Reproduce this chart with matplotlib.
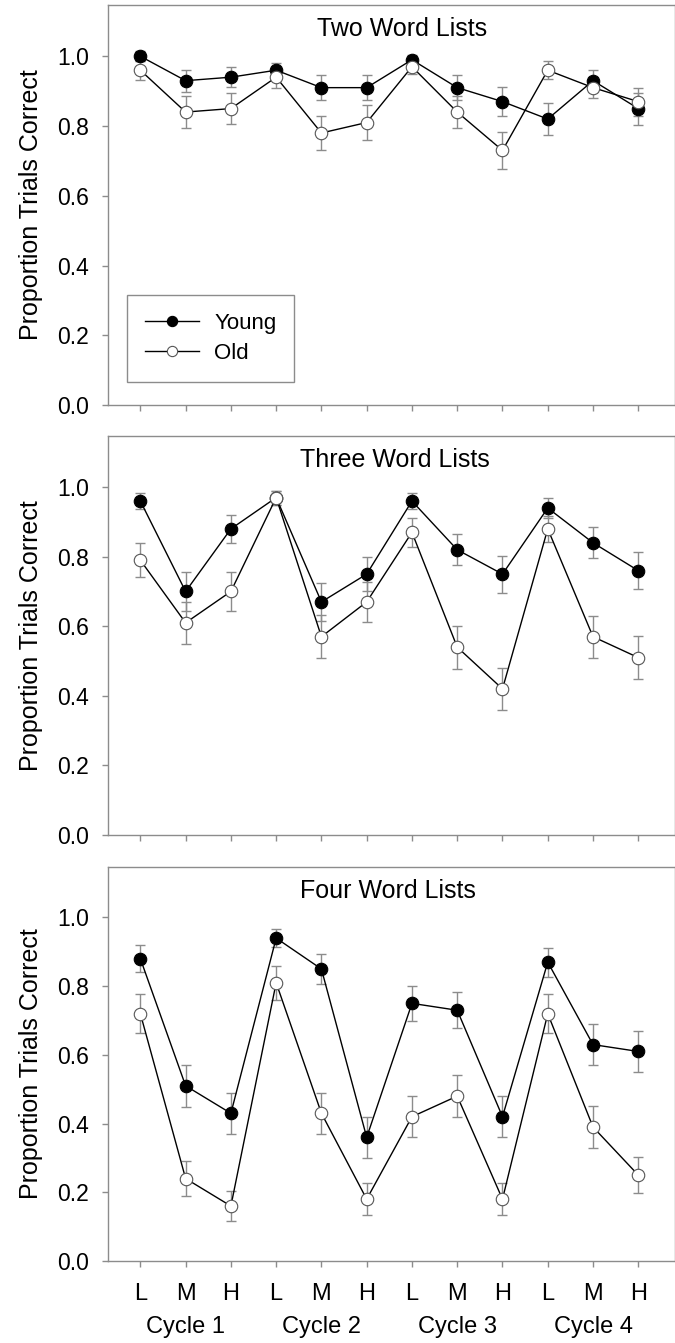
import matplotlib
matplotlib.use("Agg")
import matplotlib.pyplot as plt
import numpy as np

plt.rcParams['font.family'] = ['Liberation Sans', 'DejaVu Sans']

conditions = ["L", "M", "H"] * 4
cycles = ["Cycle 1", "Cycle 2", "Cycle 3", "Cycle 4"]
titles = ["Two Word Lists", "Three Word Lists", "Four Word Lists"]

young_two = [1.00, 0.93, 0.94, 0.96, 0.91, 0.91, 0.99, 0.91, 0.87, 0.82, 0.93, 0.85]
old_two = [0.96, 0.84, 0.85, 0.94, 0.78, 0.81, 0.97, 0.84, 0.73, 0.96, 0.91, 0.87]
young_two_se = [0.015, 0.032, 0.029, 0.02, 0.035, 0.035, 0.015, 0.035, 0.042, 0.047, 0.032, 0.046]
old_two_se = [0.027, 0.045, 0.044, 0.03, 0.05, 0.049, 0.02, 0.045, 0.054, 0.025, 0.03, 0.04]

young_three = [0.96, 0.70, 0.88, 0.97, 0.67, 0.75, 0.96, 0.82, 0.75, 0.94, 0.84, 0.76]
old_three = [0.79, 0.61, 0.70, 0.97, 0.57, 0.67, 0.87, 0.54, 0.42, 0.88, 0.57, 0.51]
young_three_se = [0.024, 0.055, 0.04, 0.02, 0.055, 0.05, 0.024, 0.045, 0.053, 0.029, 0.045, 0.053]
old_three_se = [0.049, 0.06, 0.056, 0.02, 0.062, 0.058, 0.042, 0.062, 0.06, 0.038, 0.06, 0.062]

young_four = [0.88, 0.51, 0.43, 0.94, 0.85, 0.36, 0.75, 0.73, 0.42, 0.87, 0.63, 0.61]
old_four = [0.72, 0.24, 0.16, 0.81, 0.43, 0.18, 0.42, 0.48, 0.18, 0.72, 0.39, 0.25]
young_four_se = [0.04, 0.061, 0.06, 0.027, 0.044, 0.059, 0.052, 0.053, 0.06, 0.042, 0.06, 0.06]
old_four_se = [0.056, 0.052, 0.045, 0.049, 0.06, 0.046, 0.06, 0.062, 0.046, 0.056, 0.06, 0.053]

panels = [
    (young_two, young_two_se, old_two, old_two_se),
    (young_three, young_three_se, old_three, old_three_se),
    (young_four, young_four_se, old_four, old_four_se),
]

W, H = 675, 1343
fig = plt.figure(figsize=(W / 100, H / 100), dpi=100)

# (top_px, bottom_px) for each panel
boxes = [(5, 405), (436, 835), (867, 1261)]
title_x = [0.519, 0.506, 0.494]
left_px, right_px = 107.5, 674.5

x = np.arange(1, 13)
gray = '#8c8c8c'
ms = 9.0

for i, ((top, bot), (yv, ye, ov, oe)) in enumerate(zip(boxes, panels)):
    ax = fig.add_axes([left_px / W, 1 - bot / H, (right_px - left_px) / W, (bot - top) / H])
    ax.set_xlim(0.274, 12.8)
    ax.set_ylim(0, 1.147)
    for s in ax.spines.values():
        s.set_color(gray)
        s.set_linewidth(1.0)

    ax.errorbar(x, yv, yerr=ye, fmt='none', ecolor=gray, elinewidth=1.0, capsize=3.6, capthick=1.0, zorder=2)
    ax.errorbar(x, ov, yerr=oe, fmt='none', ecolor=gray, elinewidth=1.0, capsize=3.6, capthick=1.0, zorder=2)
    ax.plot(x, yv, '-o', color='black', lw=1.0, mfc='black', mec='black', ms=ms, mew=0.8, zorder=3, label='Young')
    ax.plot(x, ov, '-o', color='black', lw=1.0, mfc='white', mec='#555555', ms=ms, mew=0.8, zorder=4, label='Old')

    ax.set_yticks([0.0, 0.2, 0.4, 0.6, 0.8, 1.0])
    ax.set_yticklabels([f"{v:.1f}" for v in [0.0, 0.2, 0.4, 0.6, 0.8, 1.0]])
    ax.set_xticks(x)
    ax.tick_params(axis='both', direction='out', length=4.2, width=1.0, color=gray, labelsize=16.5)
    ax.tick_params(axis='y', pad=9)
    if i == 2:
        ax.set_xticklabels(conditions)
        ax.tick_params(axis='x', pad=11.5, labelsize=17)
        for c, name in enumerate(cycles):
            ax.text(2 + 3 * c, -0.183, name, ha='center', va='baseline', fontsize=17,
                    transform=ax.get_xaxis_transform())
    else:
        ax.set_xticklabels([])

    ax.set_ylabel("Proportion Trials Correct", fontsize=18, labelpad=10)
    ax.text(title_x[i], 0.922, titles[i], transform=ax.transAxes, ha='center', va='baseline', fontsize=18)

    if i == 0:
        leg = ax.legend(loc='upper left', bbox_to_anchor=(0.0344, 0.275), borderaxespad=0,
                        fontsize=16, frameon=True, fancybox=False, framealpha=1,
                        handlelength=2.45, borderpad=0.8, labelspacing=0.41, handletextpad=0.68,
                        markerscale=0.82)
        leg.get_frame().set_edgecolor(gray)
        leg.get_frame().set_linewidth(1.0)

fig.savefig("out.png", dpi=100)
